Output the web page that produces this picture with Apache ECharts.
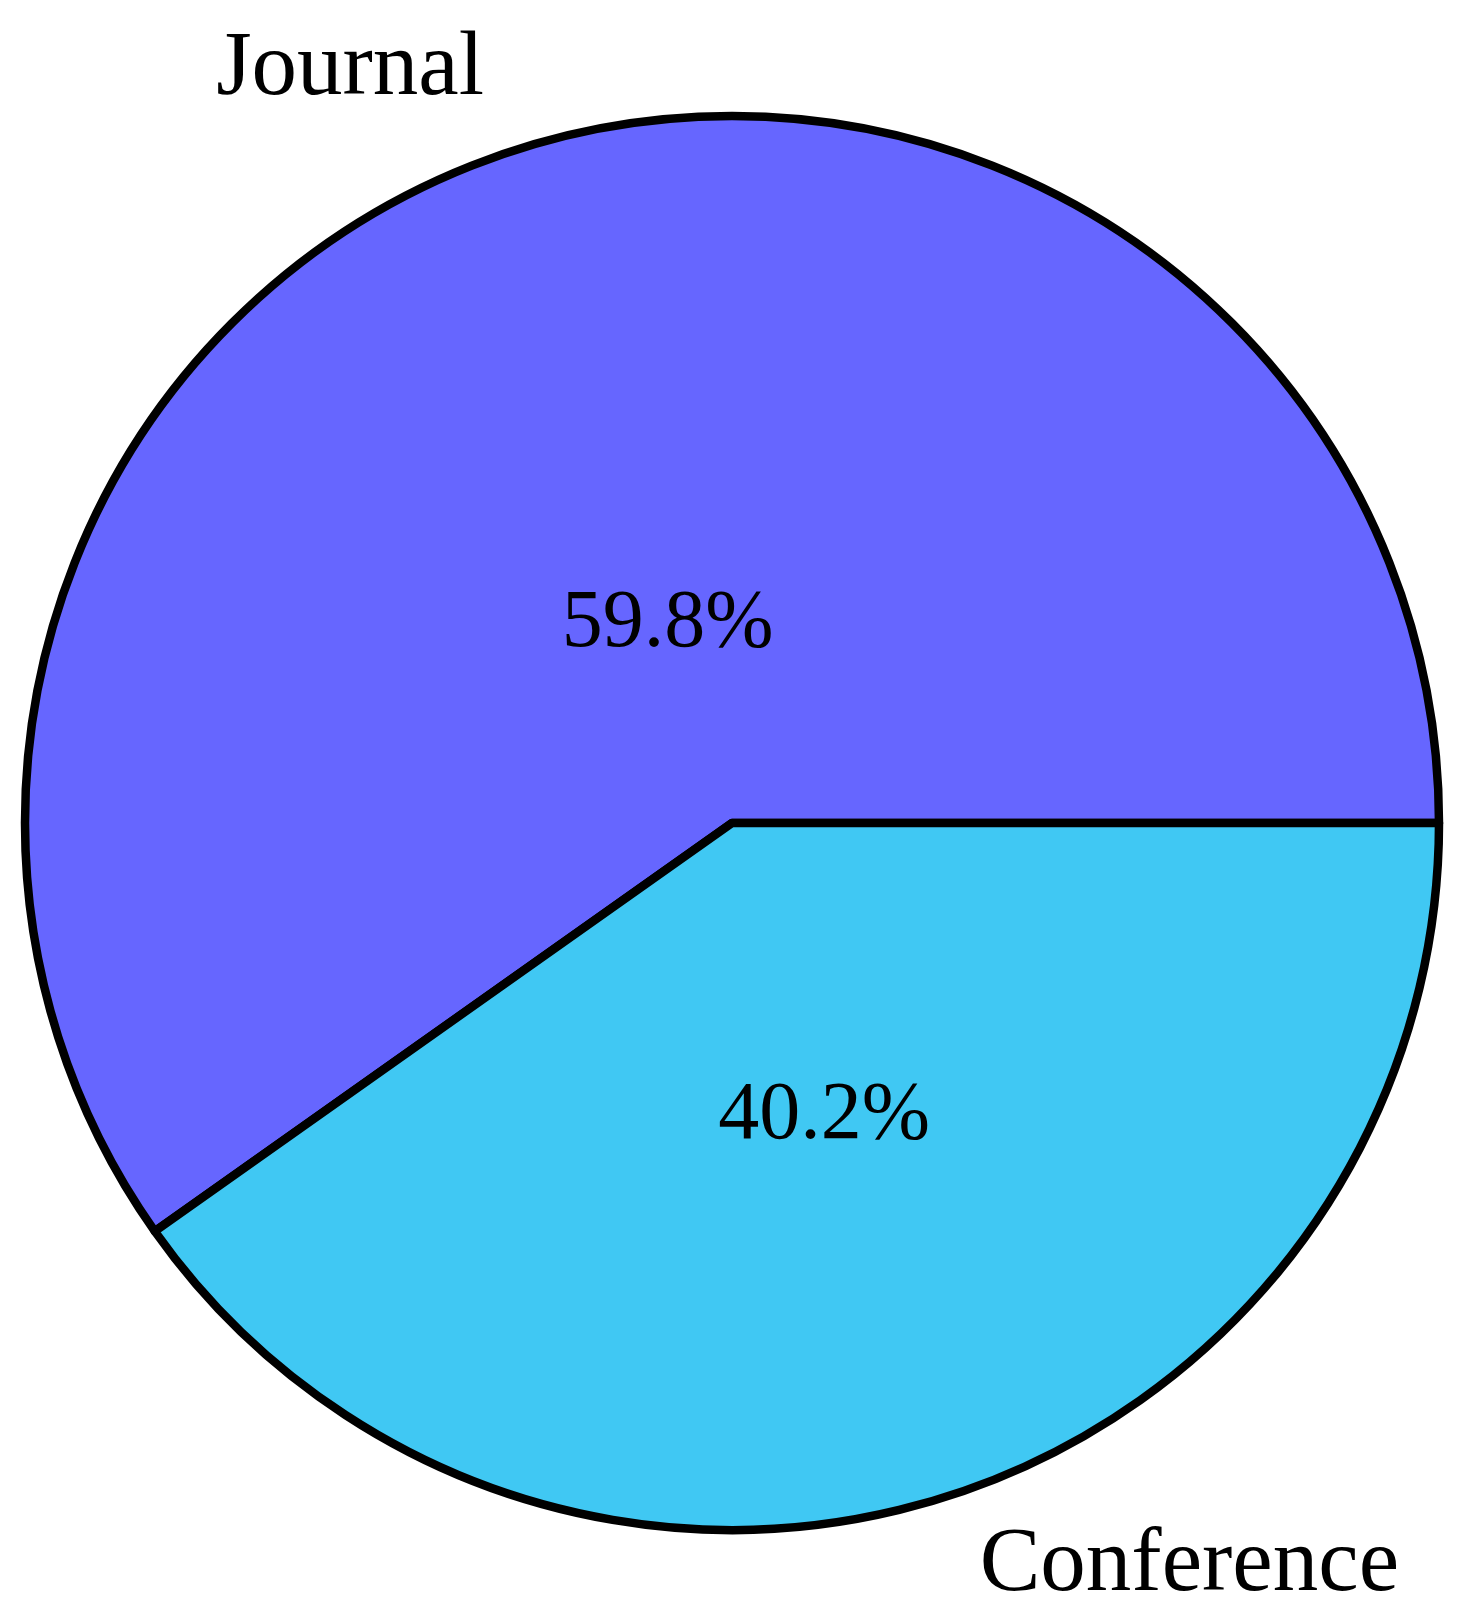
<!DOCTYPE html>
<html>
<head>
<meta charset="utf-8">
<script src="https://cdn.jsdelivr.net/npm/echarts@6/dist/echarts.min.js"></script>
<style>
  html, body { margin: 0; padding: 0; background: #fff; }
  #chart { width: 1469px; height: 1623px; }
</style>
</head>
<body>
<div id="chart"></div>
<script>
const categories = ["Journal", "Conference"];
const shares = [59.8, 40.2];
const colors = ["#6666FF", "#40C8F3"];
// how far from the centre each label sits, as a fraction of the radius
const pctDistance = [0.30, 0.43];
const nameDistance = [1.12, 1.10];

const cx = 732, cy = 823, radius = 707;
const font = "'Liberation Serif', 'DejaVu Serif', serif";

const total = shares.reduce((a, b) => a + b, 0);

function midAngle(i) {
  let before = 0;
  for (let k = 0; k < i; k++) before += shares[k];
  return (before + shares[i] / 2) / total * Math.PI * 2;
}

function placeAt(i, dist) {
  const a = midAngle(i);
  return { x: cx + dist * radius * Math.cos(a), y: cy - dist * radius * Math.sin(a), a };
}

const pieData = categories.map((name, i) => ({
  name,
  value: shares[i],
  itemStyle: { color: colors[i] }
}));

const chart = echarts.init(document.getElementById("chart"));
chart.setOption({
  animation: false,
  series: [
    {
      type: "pie",
      center: [cx, cy],
      radius: radius,
      startAngle: 0,
      clockwise: false,
      silent: true,
      itemStyle: { borderColor: "#000", borderWidth: 8.5 },
      label: {
        show: true,
        position: "inside",
        formatter: p => p.value.toFixed(1) + "%",
        color: "#000",
        fontFamily: font,
        fontSize: 82
      },
      labelLine: { show: false },
      labelLayout: p => {
        const pt = placeAt(p.dataIndex, pctDistance[p.dataIndex]);
        return { x: pt.x, y: pt.y + 4, align: "center", verticalAlign: "middle" };
      },
      data: pieData
    },
    {
      type: "pie",
      center: [cx, cy],
      radius: radius,
      startAngle: 0,
      clockwise: false,
      silent: true,
      itemStyle: { color: "transparent", borderWidth: 0 },
      label: {
        show: true,
        position: "inside",
        formatter: "{b}",
        color: "#000",
        fontFamily: font,
        fontSize: 91
      },
      labelLine: { show: false },
      labelLayout: p => {
        const pt = placeAt(p.dataIndex, nameDistance[p.dataIndex]);
        const left = Math.cos(pt.a) < 0;
        return {
          x: pt.x + (left ? -8 : 12),
          y: pt.y + 2,
          align: left ? "right" : "left",
          verticalAlign: "middle"
        };
      },
      data: categories.map((name, i) => ({ name, value: shares[i] }))
    }
  ]
});
</script>
</body>
</html>
